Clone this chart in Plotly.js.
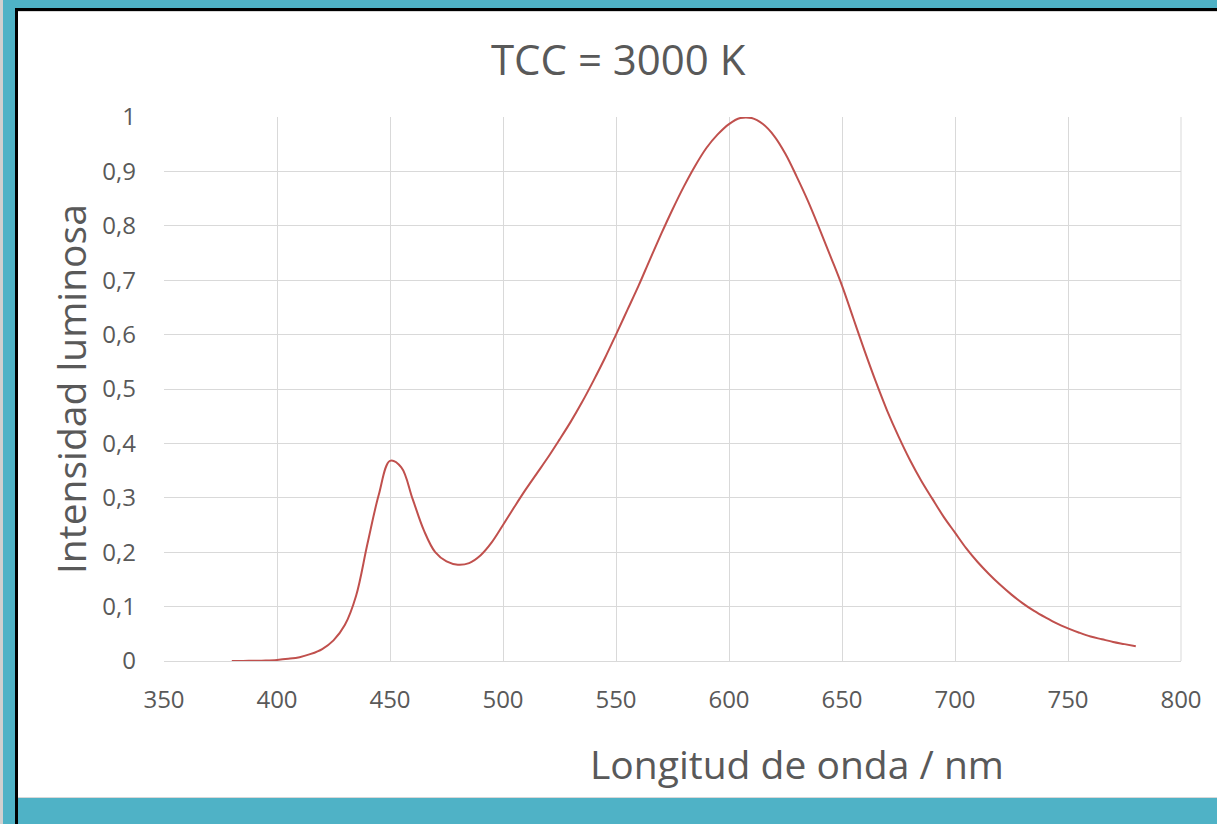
<!DOCTYPE html>
<html>
<head>
<meta charset="utf-8">
<script src="https://cdn.plot.ly/plotly-3.0.1.min.js"></script>
<style>
html,body{margin:0;padding:0;background:#fff;}
#wrap{position:relative;width:1217px;height:824px;overflow:hidden;background:#fff;}
.f{position:absolute;}
#chart{position:absolute;left:0;top:0;width:1217px;height:824px;}
</style>
</head>
<body>
<div id="wrap">
  <div class="f" style="left:0;top:0;width:1217px;height:8px;background:#4fb2c6;"></div>
  <div class="f" style="left:0;top:8px;width:1217px;height:3px;background:#000;"></div>
  <div class="f" style="left:0;top:11px;width:1217px;height:1px;background:#d8d8d8;"></div>
  <div class="f" style="left:0;top:0;width:3px;height:824px;background:#d0d0d0;"></div>
  <div class="f" style="left:3px;top:0;width:12px;height:824px;background:#4fb2c6;"></div>
  <div class="f" style="left:15px;top:8px;width:3px;height:816px;background:#000;"></div>
  <div class="f" style="left:18px;top:797px;width:1199px;height:1px;background:#d8d8d8;"></div>
  <div class="f" style="left:18px;top:798px;width:1199px;height:26px;background:#4fb2c6;"></div>
  <div id="chart"></div>
</div>
<script>
var wavelength = [380, 385, 390, 395, 400, 405, 410, 415, 420, 425, 430, 435, 440, 445, 450, 455, 460, 465, 470, 475, 480, 485, 490, 495, 500, 505, 510, 515, 520, 525, 530, 535, 540, 545, 550, 555, 560, 565, 570, 575, 580, 585, 590, 595, 600, 605, 610, 615, 620, 625, 630, 635, 640, 645, 650, 655, 660, 665, 670, 675, 680, 685, 690, 695, 700, 705, 710, 715, 720, 725, 730, 735, 740, 745, 750, 755, 760, 765, 770, 775, 780];
var intensity = [0, 0.0002, 0.0005, 0.001, 0.002, 0.004, 0.007, 0.013, 0.022, 0.038, 0.066, 0.12, 0.215, 0.305, 0.368, 0.356, 0.298, 0.24, 0.2, 0.183, 0.177, 0.18, 0.194, 0.218, 0.25, 0.283, 0.315, 0.345, 0.375, 0.407, 0.44, 0.476, 0.515, 0.556, 0.6, 0.645, 0.69, 0.738, 0.785, 0.83, 0.872, 0.91, 0.943, 0.968, 0.987, 0.998, 0.998, 0.987, 0.965, 0.932, 0.89, 0.845, 0.795, 0.743, 0.69, 0.63, 0.57, 0.513, 0.46, 0.413, 0.37, 0.332, 0.298, 0.265, 0.236, 0.207, 0.182, 0.16, 0.14, 0.122, 0.106, 0.092, 0.08, 0.069, 0.06, 0.052, 0.045, 0.04, 0.035, 0.031, 0.027];
var titleText = "TCC = 3000 K";
var xTitle = "Longitud de onda / nm";
var yTitle = "Intensidad luminosa";

var font = "Open Sans, Lato, sans-serif";
Plotly.newPlot('chart', [{
  x: wavelength, y: intensity, type: 'scatter', mode: 'lines',
  line: {color: '#c0504d', width: 2, shape: 'spline', smoothing: 1},
  hoverinfo: 'skip', showlegend: false
}], {
  width: 1217, height: 824,
  paper_bgcolor: 'rgba(0,0,0,0)', plot_bgcolor: 'rgba(0,0,0,0)',
  margin: {l: 164, r: 36, t: 117, b: 163},
  separators: ',.',
  font: {family: font, color: '#595959'},
  title: {text: titleText, x: 0.508, xanchor: 'center', y: 0.927, yanchor: 'middle', font: {size: 42, color: '#595959', family: font}},
  xaxis: {
    range: [350, 800], dtick: 50, tick0: 350, showgrid: true, gridcolor: '#d9d9d9', gridwidth: 1,
    zeroline: false, showline: false, ticks: '', tickfont: {size: 24, color: '#595959'},
    ticklabelstandoff: 22, fixedrange: true
  },
  yaxis: {
    range: [0, 1], dtick: 0.1, tick0: 0, showgrid: true, gridcolor: '#d9d9d9', gridwidth: 1,
    zeroline: true, zerolinecolor: '#d9d9d9', zerolinewidth: 1, showline: false, ticks: '',
    tickfont: {size: 24, color: '#595959'}, ticklabelstandoff: 27, fixedrange: true
  },
  annotations: [
    {text: xTitle, xref: 'paper', yref: 'paper', x: 0.6224, y: -0.1875, xanchor: 'center', yanchor: 'middle',
     showarrow: false, font: {size: 39, color: '#595959', family: font}},
    {text: yTitle, xref: 'paper', yref: 'paper', x: -0.0924, y: 0.5, xanchor: 'center', yanchor: 'middle',
     textangle: -90, showarrow: false, font: {size: 39, color: '#595959', family: font}}
  ],
  shapes: [{type: 'line', xref: 'paper', yref: 'paper', x0: 1, x1: 1, y0: 0, y1: 1, line: {color: '#d9d9d9', width: 1}}]
}, {staticPlot: true, displayModeBar: false});
</script>
</body>
</html>
